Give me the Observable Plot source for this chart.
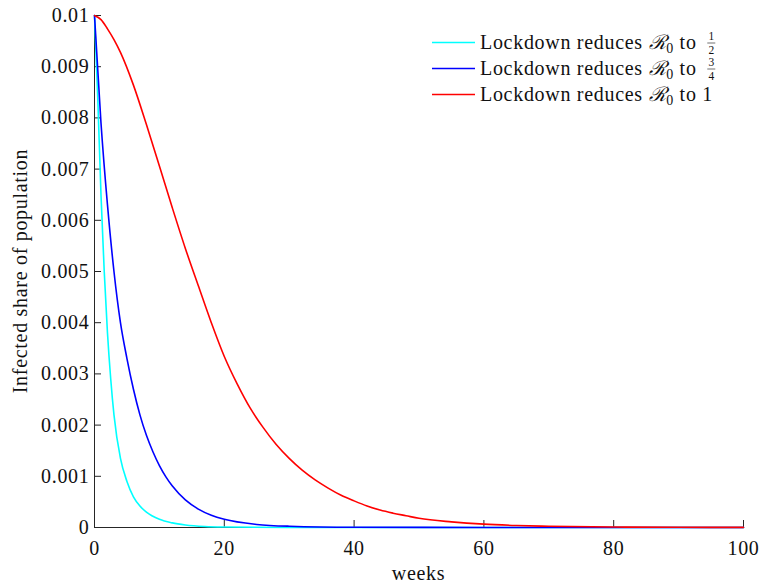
<!DOCTYPE html>
<html><head><meta charset="utf-8">
<script src="https://cdn.jsdelivr.net/npm/d3@7"></script>
<script src="https://cdn.jsdelivr.net/npm/@observablehq/plot@0.6"></script>
<style>body{margin:0;background:#fff}</style>
</head><body><div id="chart"></div>
<script>
// ---- data ----
const seriesNames = ["half", "threeQuarters", "one"];
const seriesColors = ["#00FFFF", "#0000FF", "#FF0000"];
const legendTargets = ["1/2", "3/4", "1"];

const cyanWeeks  = [0, 0.5, 1, 1.5, 2, 2.5, 3, 4, 5, 6, 7, 8, 10, 12, 14, 17, 20, 30, 100];
const cyanValues = [0.01, 0.0084, 0.0065, 0.0050, 0.0038, 0.0029, 0.0022, 0.00135, 0.0009, 0.0006, 0.00042, 0.0003, 0.00016, 0.00009, 0.00005, 0.00002, 0.00001, 0.000001, 0];

const blueWeeks  = [0, 1, 2, 3, 4, 5, 6, 7, 8, 9, 10, 11, 12, 14, 16, 18, 20, 25, 30, 40, 60, 100];
const blueValues = [0.01, 0.0079, 0.0063, 0.0050, 0.0040, 0.0033, 0.0027, 0.0022, 0.0018, 0.00148, 0.00121, 0.00099, 0.00081, 0.00054, 0.00036, 0.00024, 0.00016, 0.00006, 0.000025, 0.000005, 0.000001, 0];

const redWeeks  = [0, 1, 2, 3, 4, 6, 8, 10, 12, 14, 16, 18, 20, 22, 24, 26, 28, 30, 32, 34, 36, 38, 40, 42, 44, 46, 48, 50, 55, 60, 65, 70, 80, 90, 100];
const redValues = [0.01, 0.00992, 0.00974, 0.00953, 0.00928, 0.00864, 0.00787, 0.00706, 0.00624, 0.00545, 0.00472, 0.00400, 0.00334, 0.00280, 0.00233, 0.00195, 0.00162, 0.00135, 0.00112, 0.00093, 0.00077, 0.00063, 0.00052, 0.00042, 0.00034, 0.00028, 0.00023, 0.00018, 0.00011, 0.000065, 0.00004, 0.000025, 0.00001, 0.000004, 0.000002];

const xTicks = [0, 20, 40, 60, 80, 100];
const xTickLabels = ["0", "20", "40", "60", "80", "100"];
const yTicks = [0, 0.001, 0.002, 0.003, 0.004, 0.005, 0.006, 0.007, 0.008, 0.009, 0.01];
const yTickLabels = ["0", "0.001", "0.002", "0.003", "0.004", "0.005", "0.006", "0.007", "0.008", "0.009", "0.01"];

const xLabel = "weeks";
const yLabel = "Infected share of population";

// ---- build table ----
const allWeeks = [cyanWeeks, blueWeeks, redWeeks];
const allValues = [cyanValues, blueValues, redValues];
const rows = [];
seriesNames.forEach((s, k) => allWeeks[k].forEach((w, i) => rows.push({series: s, week: w, value: allValues[k][i]})));

// ---- layout ----
const W = 759, H = 586, mL = 94, mR = 16, mT = 15, mB = 59;
const plotW = W - mL - mR, plotH = H - mT - mB;
const font = "'Liberation Serif', 'Times New Roman', 'DejaVu Serif', serif";
const fs = 20;
const ls = "0.7px";
const ink = "#262626";

const plot = Plot.plot({
  width: W, height: H,
  marginLeft: mL, marginRight: mR, marginTop: mT, marginBottom: mB,
  style: {background: "#fff", fontFamily: font},
  x: {domain: [0, 100]},
  y: {domain: [0, 0.01]},
  color: {domain: seriesNames, range: seriesColors},
  marks: [
    Plot.axisX({ticks: xTicks, tickFormat: d => xTickLabels[xTicks.indexOf(d)], tickSize: 0, tickPadding: 13, label: null, fill: "#111", fontFamily: font, fontSize: fs}),
    Plot.axisY({ticks: yTicks, tickFormat: d => yTickLabels[yTicks.indexOf(d)], tickSize: 0, tickPadding: 5, label: null, fill: "#111", fontFamily: font, fontSize: fs}),
    Plot.ruleX([0], {stroke: ink}),
    Plot.ruleY([0], {stroke: ink}),
    Plot.tickX(xTicks, {x: d => d, stroke: ink, insetTop: plotH - 7}),
    Plot.tickY(yTicks, {y: d => d, stroke: ink, insetRight: plotW - 7}),
    ...seriesNames.map(s => Plot.line(rows.filter(r => r.series === s), {x: "week", y: "value", stroke: "series", strokeWidth: 1.6, curve: "monotone-x"}))
  ]
});
document.getElementById("chart").appendChild(plot);
d3.select(plot).selectAll("text").style("font-family", font).style("letter-spacing", ls);

// ---- titles and legend ----
const svg = d3.select(plot);
svg.append("text").attr("x", mL + plotW / 2).attr("y", 580).attr("text-anchor", "middle")
  .style("font-family", font).style("letter-spacing", ls).attr("font-size", fs).attr("fill", "#111").text(xLabel);
svg.append("text").attr("transform", `translate(27,${mT + plotH / 2}) rotate(-90)`).attr("text-anchor", "middle")
  .style("font-family", font).style("letter-spacing", ls).attr("font-size", fs).attr("fill", "#111").text(yLabel);

const lg = svg.append("g").style("font-family", font).attr("fill", "#111").attr("text-anchor", "start");
seriesNames.forEach((s, i) => {
  const yLine = 42.5 + 26 * i, yBase = 48.5 + 26 * i;
  lg.append("line").attr("x1", 432).attr("x2", 475).attr("y1", yLine).attr("y2", yLine)
    .attr("stroke", seriesColors[i]).attr("stroke-width", 1.6);
  const t = lg.append("text").attr("x", 480).attr("y", yBase).attr("font-size", fs).attr("text-anchor", "start")
    .style("font-family", font).style("letter-spacing", ls);
  t.append("tspan").text("Lockdown reduces ");
  t.append("tspan").style("font-family", "'DejaVu Serif', serif").attr("font-style", "italic").text("ℛ");
  t.append("tspan").attr("font-size", 14).attr("dy", 4).text("0");
  t.append("tspan").attr("dy", -4).text(" to ");
  const end = 480 + t.node().getComputedTextLength();
  const parts = legendTargets[i].split("/");
  if (parts.length === 2) {
    const cx = end + 9;
    lg.append("text").attr("x", cx).attr("y", yBase - 8.5).attr("font-size", 11.5).attr("text-anchor", "middle").style("font-family", font).text(parts[0]);
    lg.append("line").attr("x1", cx - 4).attr("x2", cx + 4).attr("y1", yBase - 5.5).attr("y2", yBase - 5.5).attr("stroke", "#111").attr("stroke-width", 0.6);
    lg.append("text").attr("x", cx).attr("y", yBase + 5).attr("font-size", 11.5).attr("text-anchor", "middle").style("font-family", font).text(parts[1]);
  } else {
    t.append("tspan").text(parts[0]);
  }
});
</script>
</body></html>
